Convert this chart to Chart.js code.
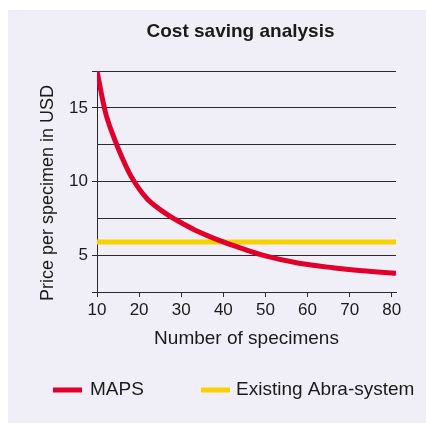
<!DOCTYPE html>
<html>
<head>
<meta charset="utf-8">
<script src="https://cdn.jsdelivr.net/npm/chart.js@4.4.0/dist/chart.umd.min.js"></script>
<style>
  html, body { margin: 0; padding: 0; background: #ffffff; }
  #chart { display: block; }
</style>
</head>
<body>
<canvas id="chart" width="426" height="425"></canvas>
<script>
// Data
const TITLE = 'Cost saving analysis';
const X_TITLE = 'Number of specimens';
const Y_TITLE = 'Price per specimen in USD';

const specimens = [10, 12, 14, 16, 18, 20, 22, 24, 27, 30, 34, 39, 44, 50, 58, 66, 73, 81];
const mapsPrice = [17.5, 14.7, 13.0, 11.6, 10.4, 9.5, 8.8, 8.3, 7.7, 7.2, 6.6, 6.0, 5.5, 4.95, 4.45, 4.15, 3.95, 3.77];

const abraSpecimens = [10, 81];
const abraPrice = [5.9, 5.9];

const yTickLabels = [5, 10, 15];
const xTickLabels = [10, 20, 30, 40, 50, 60, 70, 80];

const FONT = "'Liberation Sans', Arial, Helvetica, sans-serif";
const TEXT_COLOR = '#1a1a1a';
const LINE_COLOR = '#2a2a2a';

// Panel, title, y title and legend
const decorPlugin = {
  id: 'decor',
  beforeDraw(chart) {
    const c = chart.ctx;
    c.save();
    c.fillStyle = '#f0eff7';
    c.fillRect(8, 10, 418, 413);
    c.restore();
  },
  afterDraw(chart) {
    const c = chart.ctx;
    const area = chart.chartArea;
    c.save();
    c.fillStyle = TEXT_COLOR;

    // title
    c.font = 'bold 19px ' + FONT;
    c.textAlign = 'center';
    c.textBaseline = 'alphabetic';
    c.fillText(TITLE, (area.left + area.right) / 2 - 6, 37);

    // y axis title
    c.save();
    c.translate(53, 193);
    c.rotate(-Math.PI / 2);
    c.font = '18px ' + FONT;
    c.fillText(Y_TITLE, 0, 0);
    c.restore();

    // legend
    const items = [{ x: 53 }, { x: 201 }];
    c.font = '19px ' + FONT;
    c.textAlign = 'left';
    c.textBaseline = 'middle';
    chart.data.datasets.forEach((ds, i) => {
      const x0 = items[i].x;
      c.strokeStyle = ds.borderColor;
      c.lineWidth = 5;
      c.beginPath();
      c.moveTo(x0, 390);
      c.lineTo(x0 + 29, 390);
      c.stroke();
      c.fillStyle = TEXT_COLOR;
      c.fillText(ds.label, x0 + (i === 0 ? 37 : 35), 390);
    });
    c.restore();
  }
};

const ctx = document.getElementById('chart').getContext('2d');
new Chart(ctx, {
  type: 'line',
  data: {
    datasets: [
      {
        label: 'MAPS',
        data: specimens.map((x, i) => ({ x: x, y: mapsPrice[i] })),
        borderColor: '#e1002b',
        borderWidth: 5,
        pointRadius: 0,
        cubicInterpolationMode: 'monotone',
        fill: false
      },
      {
        label: 'Existing Abra-system',
        data: abraSpecimens.map((x, i) => ({ x: x, y: abraPrice[i] })),
        borderColor: '#f7d200',
        borderWidth: 5,
        pointRadius: 0,
        borderCapStyle: 'butt',
        fill: false
      }
    ]
  },
  options: {
    responsive: false,
    animation: false,
    devicePixelRatio: 1,
    layout: { padding: { left: 0, right: 30, top: 71, bottom: 75 } },
    plugins: {
      legend: { display: false },
      title: { display: false },
      tooltip: { enabled: false }
    },
    scales: {
      x: {
        type: 'linear',
        min: 10,
        max: 81,
        afterFit(scale) { scale.height = 58; },
        border: { color: LINE_COLOR, width: 1 },
        grid: { drawOnChartArea: false, drawTicks: true, tickLength: 5, color: LINE_COLOR },
        ticks: {
          stepSize: 10,
          includeBounds: false,
          padding: 3,
          color: TEXT_COLOR,
          font: { family: FONT, size: 17 },
          callback: (v) => (xTickLabels.includes(v) ? String(v) : '')
        },
        title: {
          display: true,
          text: X_TITLE,
          color: TEXT_COLOR,
          font: { family: FONT, size: 19 },
          padding: { top: 0, bottom: 0 }
        }
      },
      y: {
        min: 2.5,
        max: 17.5,
        afterFit(scale) { scale.width = 97; },
        border: { color: LINE_COLOR, width: 1 },
        grid: {
          color: LINE_COLOR,
          lineWidth: 1,
          tickLength: 5,
          tickColor: (c) => {
            const v = c.tick ? c.tick.value : null;
            return [2.5, 5, 10, 15, 17.5].includes(v) ? LINE_COLOR : 'rgba(0,0,0,0)';
          }
        },
        ticks: {
          stepSize: 2.5,
          padding: 4,
          color: TEXT_COLOR,
          font: { family: FONT, size: 17 },
          callback: (v) => (yTickLabels.includes(v) ? String(v) : '')
        }
      }
    }
  },
  plugins: [decorPlugin]
});
</script>
</body>
</html>
